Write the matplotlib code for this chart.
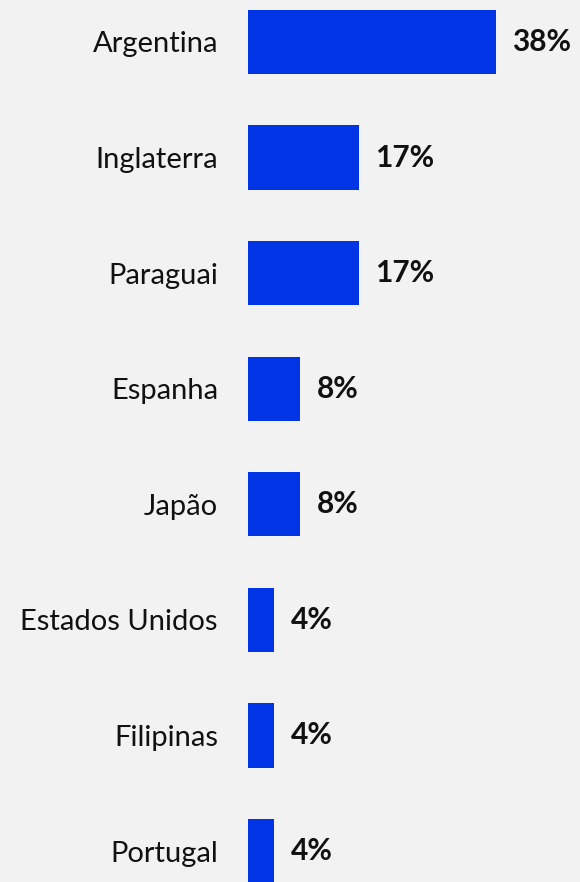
import matplotlib.pyplot as plt

COUNTRIES = ["Argentina", "Inglaterra", "Paraguai", "Espanha", "Japão",
             "Estados Unidos", "Filipinas", "Portugal"]
SHARES = [38, 17, 17, 8, 8, 4, 4, 4]

BG = "#f2f2f2"
BAR_COLOR = "#0035e6"

plt.rcParams["font.family"] = ["Lato", "DejaVu Sans"]

fig = plt.figure(figsize=(5.8, 8.82), dpi=100, facecolor=BG)
ax = fig.add_axes([248 / 580, 0, 1 - 248 / 580, 1])
ax.set_facecolor(BG)

pos = list(range(len(COUNTRIES)))
ax.barh(pos, SHARES, height=0.555, color=BAR_COLOR)

for y, v in zip(pos, SHARES):
    ax.text(v + 2.5, y, f"{v}%", va="center", ha="left",
            fontsize=21.5, fontweight="bold", color="#111111")

ax.set_yticks(pos)
ax.set_yticklabels(COUNTRIES, fontsize=21, color="#111111")
ax.tick_params(axis="y", length=0, pad=21.6)
ax.set_xticks([])
ax.set_xlim(0, 50.9)
ax.set_ylim(7.268, -0.363)
for s in ax.spines.values():
    s.set_visible(False)

fig.savefig("out.png", dpi=100, facecolor=BG)
